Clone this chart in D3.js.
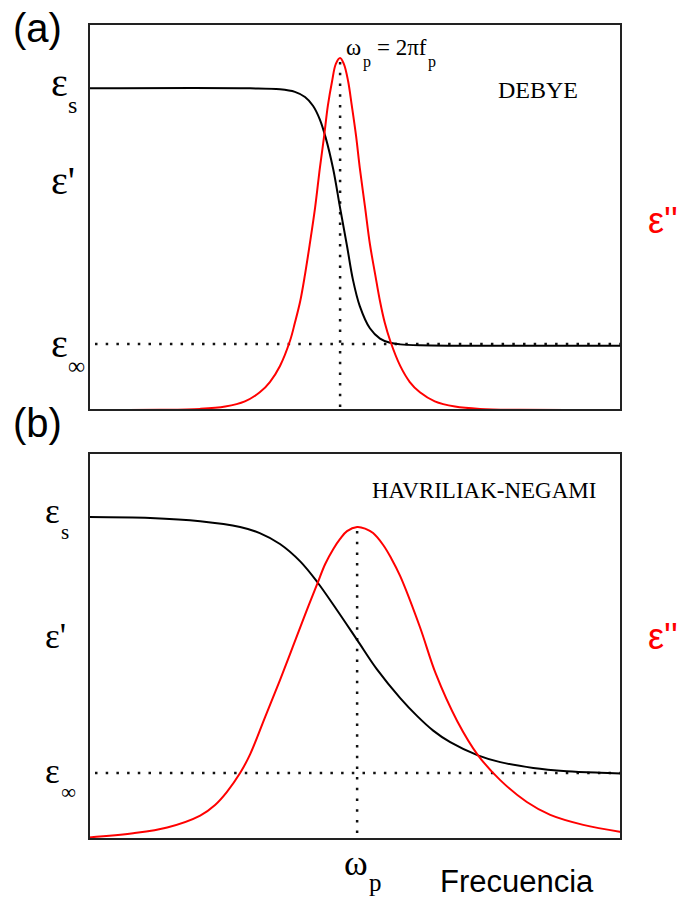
<!DOCTYPE html>
<html>
<head>
<meta charset="utf-8">
<script src="https://cdn.jsdelivr.net/npm/d3@7/dist/d3.min.js"></script>
<style>
  body { margin: 0; background: #fff; }
</style>
</head>
<body>
<div id="chart"></div>
<script>
// x = log frequency (arbitrary units 0..10), y = permittivity (eps_inf = 2, eps_s = 10)

// (a) Debye
var debyeRealX = [0, 3.03, 3.59, 3.87, 4.06, 4.21, 4.34, 4.45, 4.59, 4.72, 4.85, 4.96, 5.09, 5.28, 5.47, 5.66, 5.85, 6.22, 6.97, 10]
var debyeRealY = [10, 10, 9.97, 9.89, 9.73, 9.46, 9.03, 8.46, 7.49, 6.28, 5.1, 4.06, 3.23, 2.54, 2.22, 2.09, 2.04, 2.01, 2.0, 2.0]
var debyeImagX = [0, 1.34, 2.09, 2.56, 2.93, 3.21, 3.40, 3.59, 3.78, 3.87, 3.97, 4.06, 4.15, 4.25, 4.34, 4.42, 4.49, 4.57, 4.64, 4.72,
      4.79, 4.87, 4.94, 5.02, 5.09, 5.19, 5.28, 5.38, 5.47, 5.56, 5.66, 5.85, 6.03, 6.22, 6.50, 6.88, 7.35, 8.10, 10]
var debyeImagY = [0, 0.005, 0.035, 0.11, 0.27, 0.55, 0.87, 1.37, 2.16, 2.71, 3.38, 4.21, 5.16, 6.29, 7.53, 8.52, 9.46, 10.23, 10.76, 10.94,
      10.76, 10.23, 9.46, 8.52, 7.53, 6.29, 5.16, 4.21, 3.38, 2.71, 2.16, 1.37, 0.87, 0.55, 0.27, 0.11, 0.035, 0.005, 0]
var debyePeakX = 4.72

// (b) Havriliak-Negami
var hnRealX = [0, 1.15, 2.09, 2.84, 3.21, 3.59, 3.97, 4.29, 4.66, 5.04, 5.41, 5.85, 6.17, 6.47, 6.79, 7.31, 7.73, 8.35, 8.98, 9.61, 10]
var hnRealY = [10.01, 9.98, 9.88, 9.7, 9.51, 9.17, 8.63, 7.99, 7.12, 6.19, 5.28, 4.38, 3.82, 3.37, 3.01, 2.6, 2.39, 2.21, 2.11, 2.06, 2.04]
var hnImagX = [0, 0.83, 1.47, 2.09, 2.37, 2.59, 2.84, 3.03, 3.31, 3.59, 3.83, 4.06, 4.29, 4.44, 4.59, 4.72, 4.85, 5.04,
      5.19, 5.34, 5.53, 5.68, 5.85, 6.22, 6.52, 6.92, 7.31, 7.73, 8.23, 8.67, 9.29, 10]
var hnImagY = [0.05, 0.18, 0.36, 0.73, 1.06, 1.46, 2.05, 2.64, 3.79, 4.94, 5.97, 6.97, 7.93, 8.55, 9.01, 9.33, 9.57, 9.7,
      9.65, 9.51, 9.14, 8.73, 8.17, 6.59, 5.13, 3.67, 2.61, 1.83, 1.15, 0.75, 0.44, 0.22]
var hnPeakX = 5.04

var epsS = 10, epsInf = 2.05

var width = 532, height = 386
var serif = "Liberation Serif, Times New Roman, serif"
var sans = "Liberation Sans, Arial, sans-serif"

var svg = d3.select("#chart")
      .append("svg")
      .attr("width", 685)
      .attr("height", 899)

var xScale = d3.scaleLinear().domain([0, 10]).range([0, width])
var yScale = d3.scaleLinear().domain([0, 12]).range([height, 0])

function zip(xs, ys) {
      return xs.map(function (x, i) { return { x: x, y: ys[i] } })
}

function drawPanel(p) {
      var g = svg.append("g")
            .attr("transform", "translate(89," + p.top + ")")

      var line = d3.line()
            .x(function (d) { return xScale(d.x) })
            .y(function (d) { return yScale(d.y) })
            .curve(d3.curveCatmullRom.alpha(0.5))

      // dotted guides
      g.append("line")
            .attr("x1", 6).attr("x2", width)
            .attr("y1", yScale(epsInf)).attr("y2", yScale(epsInf))
            .attr("stroke", "#111").attr("stroke-width", 2.5)
            .attr("stroke-dasharray", "2.5,8.2")
      g.append("line")
            .attr("x1", xScale(p.peakX)).attr("x2", xScale(p.peakX))
            .attr("y1", yScale(d3.max(p.imagY)) + 4).attr("y2", height)
            .attr("stroke", "#111").attr("stroke-width", 2.5)
            .attr("stroke-dasharray", "2.5,8.2")

      g.append("path")
            .datum(zip(p.realX, p.realY))
            .attr("d", line)
            .attr("fill", "none")
            .attr("stroke", "#000")
            .attr("stroke-width", 2)
      g.append("path")
            .datum(zip(p.imagX, p.imagY))
            .attr("d", line)
            .attr("fill", "none")
            .attr("stroke", "#f00")
            .attr("stroke-width", 2)

      // frame
      g.append("rect")
            .attr("width", width).attr("height", height)
            .attr("fill", "none")
            .attr("stroke", "#222")
            .attr("stroke-width", 2)

      // panel letter
      svg.append("text")
            .attr("x", 13).attr("y", p.top + p.letterDy)
            .attr("font-family", sans)
            .attr("font-size", 40)
            .text(p.letter)

      // left labels
      var lx = p.labelX - 89
      function eps(yv, dy, sub) {
            g.append("text")
                  .attr("x", lx).attr("y", yScale(yv) + dy)
                  .attr("font-family", serif)
                  .attr("font-size", p.epsSize)
                  .text(sub === "'" ? "\u03b5'" : "\u03b5")
            if (sub !== "'") {
                  g.append("text")
                        .attr("x", lx + p.subDx).attr("y", yScale(yv) + dy + p.subDy)
                        .attr("font-family", serif)
                        .attr("font-size", p.subSize)
                        .text(sub)
            }
      }
      eps(epsS, p.sDy, "s")
      eps(p.primeY, 0, "'")
      eps(epsInf, p.infDy, "\u221e")

      // red eps'' label
      g.append("text")
            .attr("x", p.redX - 89).attr("y", yScale(p.redY))
            .attr("font-family", sans)
            .attr("font-size", 36)
            .attr("fill", "#f00")
            .text("\u03b5''")

      // model name
      g.append("text")
            .attr("x", p.nameX - 89).attr("y", p.nameY - p.top)
            .attr("font-family", serif)
            .attr("font-size", p.nameSize)
            .text(p.name)
}

drawPanel({
      top: 24, letter: "(a)", letterDy: 18,
      realX: debyeRealX, realY: debyeRealY, imagX: debyeImagX, imagY: debyeImagY, peakX: debyePeakX,
      labelX: 51, epsSize: 40, subSize: 24, sDy: 8, infDy: 13, subDx: 17, subDy: 17, primeY: 6.7,
      redX: 648, redY: 5.5, name: "DEBYE", nameX: 498, nameY: 98, nameSize: 24
})
drawPanel({
      top: 453, letter: "(b)", letterDy: -16,
      realX: hnRealX, realY: hnRealY, imagX: hnImagX, imagY: hnImagY, peakX: hnPeakX,
      labelX: 45, epsSize: 35, subSize: 21, sDy: 6, infDy: 10, subDx: 16, subDy: 16, primeY: 5.95,
      redX: 648, redY: 5.9, name: "HAVRILIAK-NEGAMI", nameX: 372, nameY: 498, nameSize: 23
})

// omega_p = 2 pi f_p annotation in (a)
function note(x, y, size, txt) {
      svg.append("text")
            .attr("x", x).attr("y", y)
            .attr("font-family", serif)
            .attr("font-size", size)
            .text(txt)
}
note(346, 55, 23, "\u03c9")
note(363, 67, 16, "p")
note(377, 55, 23, "= 2\u03c0f")
note(428, 67, 16, "p")

// bottom axis labels
note(344, 875, 36, "\u03c9")
note(369, 891, 25, "p")
svg.append("text")
      .attr("x", 440).attr("y", 892)
      .attr("font-family", sans)
      .attr("font-size", 31)
      .text("Frecuencia")
</script>
</body>
</html>
